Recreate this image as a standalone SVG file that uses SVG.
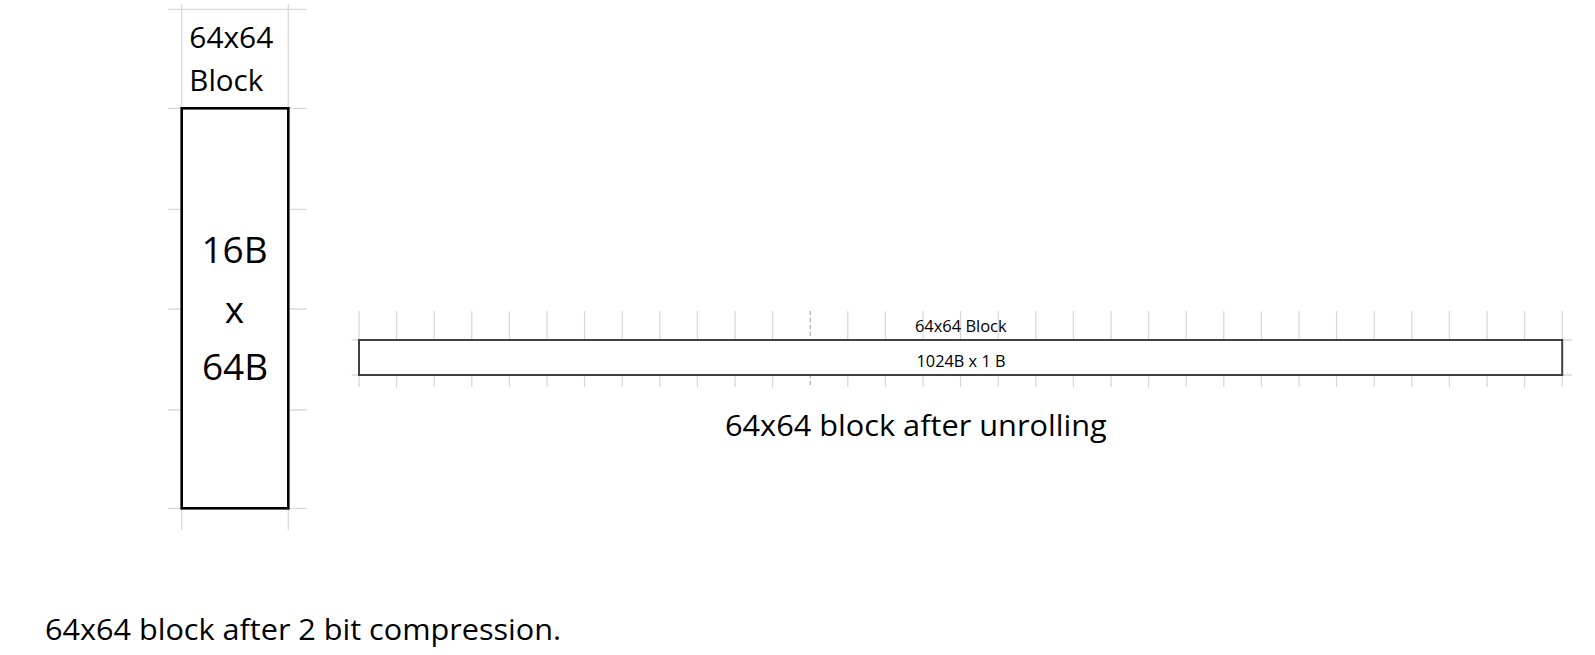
<svg xmlns="http://www.w3.org/2000/svg" width="1595" height="655" viewBox="0 0 1595 655">
<style>
.grid{stroke:#d9d9d9;stroke-width:1.3;fill:none}
.t{font-family:"Open Sans","Liberation Sans",sans-serif;fill:#000}
</style>
<rect width="1595" height="655" fill="#fff"/>
<g id="grid-left">
<path class="grid" d="M181.7 4V530M288.3 4V530M168 9.3H306.7M168 108.3H306.7M168 209.3H306.7M168 309H306.7M168 410H306.7M168 508.3H306.7"/>
</g>
<g id="grid-right">
<path class="grid" d="M351.7 340H1571.7M351.7 375H1571.7"/>
<path class="grid" d="M359 311V387M396.6 311V387M434.2 311V387M471.8 311V387M509.4 311V387M547 311V387M584.6 311V387M622.2 311V387M659.8 311V387M697.4 311V387M735 311V387M772.6 311V387M847.8 311V387M885.4 311V387M923 311V387M960.6 311V387M998.2 311V387M1035.8 311V387M1073.4 311V387M1111 311V387M1148.6 311V387M1186.2 311V387M1223.8 311V387M1261.4 311V387M1299 311V387M1336.6 311V387M1374.2 311V387M1411.8 311V387M1449.4 311V387M1487 311V387M1524.6 311V387M1562.2 311V387"/>
<path d="M810.2 311V387" stroke="#9a9a9a" stroke-width="1" stroke-dasharray="4 3" fill="none"/>
</g>
<g id="label-block">
<text class="t" x="189.3" y="48.3" font-size="30" textLength="84" lengthAdjust="spacingAndGlyphs">64x64</text>
<text class="t" x="189.3" y="90.7" font-size="30" textLength="74" lengthAdjust="spacingAndGlyphs">Block</text>
</g>
<g id="tall-block">
<rect x="181.7" y="108.3" width="106.6" height="400" fill="#fff" stroke="#000" stroke-width="2.6"/>
<text class="t" x="234.5" y="263.3" font-size="37" text-anchor="middle">16B</text>
<text class="t" x="234.5" y="322.7" font-size="37" text-anchor="middle">x</text>
<text class="t" x="235" y="380" font-size="37" text-anchor="middle">64B</text>
</g>
<g id="unrolled-block">
<rect x="359" y="340" width="1203.2" height="35" fill="#fff" stroke="#404040" stroke-width="2"/>
<text class="t" x="960.8" y="331.7" font-size="16" text-anchor="middle" textLength="91.7" lengthAdjust="spacingAndGlyphs">64x64 Block</text>
<text class="t" x="961" y="366.7" font-size="16" text-anchor="middle" textLength="89" lengthAdjust="spacingAndGlyphs">1024B x 1 B</text>
</g>
<g id="captions">
<text class="t" x="725" y="435.7" font-size="29" textLength="381.7" lengthAdjust="spacingAndGlyphs">64x64 block after unrolling</text>
<text class="t" x="45" y="640" font-size="29" textLength="516" lengthAdjust="spacingAndGlyphs">64x64 block after 2 bit compression.</text>
</g>
<g id="connectors"></g>
</svg>
